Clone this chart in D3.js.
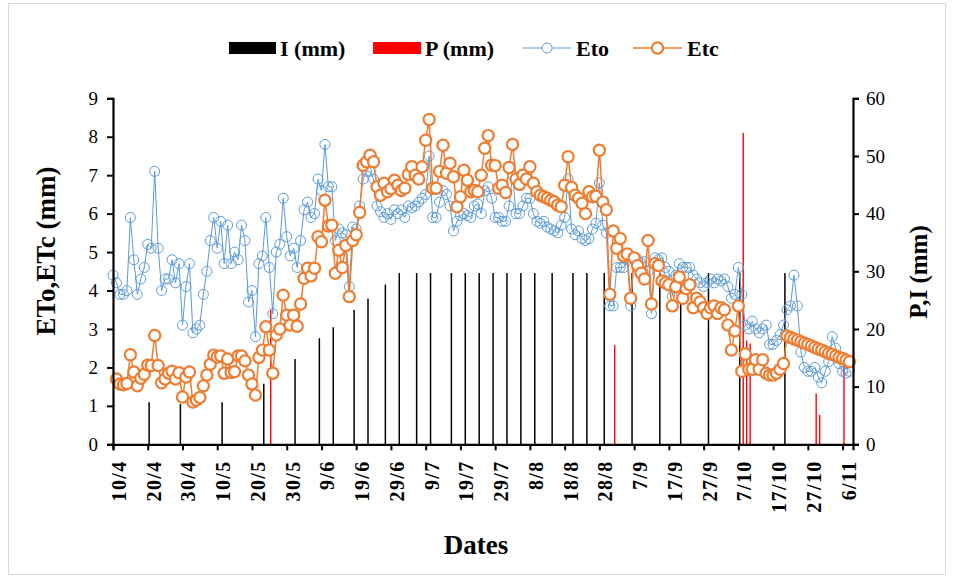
<!DOCTYPE html>
<html><head><meta charset="utf-8">
<script src="https://cdn.jsdelivr.net/npm/d3@7"></script>
<style>
html,body{margin:0;padding:0;background:#fff;}
svg{display:block;}
text{font-family:"Liberation Serif","Times New Roman",serif;}
</style></head>
<body>
<svg id="chart" width="955" height="580"></svg>
<script>
// ---- DATA ----
const tickLabels = ["10/4","20/4","30/4","10/5","20/5","30/5","9/6","19/6","29/6","9/7","19/7","29/7","8/8","18/8","28/8","7/9","17/9","27/9","7/10","17/10","27/10","6/11"];
const dayCount = 213;

const eto = [4.4,4.2,3.9,3.9,4.0,5.9,4.8,3.9,4.3,4.6,
5.2,5.1,7.1,5.1,4.0,4.3,4.3,4.8,4.2,4.7,
3.1,4.1,4.7,2.9,3.0,3.1,3.9,4.5,5.3,5.9,
5.1,5.8,4.7,5.7,4.7,5.0,4.8,5.7,5.3,3.7,
4.0,2.8,4.7,4.9,5.9,4.6,3.4,5.0,5.2,6.4,
5.4,4.9,5.1,4.6,5.3,6.1,6.3,5.9,6.0,6.9,
6.6,7.8,6.7,6.7,5.3,5.6,5.5,5.45,4.1,5.65,
5.6,6.2,6.9,7.1,7.1,6.9,6.2,6.05,5.9,6.0,
5.85,6.1,6.0,6.1,5.9,6.2,6.15,6.2,6.3,6.4,
6.5,7.5,5.9,5.9,6.3,6.6,6.5,6.2,5.55,5.8,
5.95,6.0,5.95,5.9,6.2,6.25,6.0,6.6,6.7,6.4,
5.9,5.9,5.8,5.8,6.2,7.0,6.0,6.0,6.2,6.4,
6.4,6.0,5.8,5.75,5.8,5.65,5.6,5.55,5.5,5.7,
5.9,6.9,5.6,5.45,5.55,5.35,5.3,5.35,5.6,5.75,
6.8,5.7,5.5,3.6,3.6,4.6,4.6,4.6,4.8,3.6,
4.8,4.8,4.7,4.75,4.5,3.4,4.85,4.8,4.85,4.6,
4.5,3.85,4.4,4.7,4.6,4.6,4.6,4.4,4.3,4.2,
4.1,4.2,4.3,4.2,4.3,4.25,4.3,4.1,3.8,3.9,
4.6,3.9,3.1,3.0,3.2,3.0,2.9,3.0,3.1,2.6,
2.6,2.7,2.85,3.1,3.5,3.6,4.4,3.6,2.4,2.0,
1.9,1.9,2.0,1.75,1.6,1.9,2.15,2.8,2.5,2.1,
1.9,1.85,1.9];

const etc = [null,1.7,1.57,1.55,1.58,2.33,1.88,1.52,1.72,1.82,
2.06,2.05,2.83,2.05,1.6,1.7,1.85,1.9,1.7,1.86,
1.23,1.75,1.88,1.1,1.15,1.22,1.52,1.8,2.08,2.32,
2.27,2.3,1.85,2.22,1.87,1.89,2.3,2.3,2.17,1.8,
1.57,1.28,2.26,2.45,3.06,2.45,1.85,2.84,3.0,3.88,
3.36,3.1,3.36,3.07,3.65,4.32,4.58,4.38,4.58,5.4,
5.27,6.35,5.68,5.7,4.45,5.05,4.6,5.17,3.84,5.3,
5.45,6.03,7.26,7.35,7.52,7.35,6.7,6.48,6.79,6.57,
6.65,6.87,6.74,6.6,6.66,7.02,7.22,7.0,6.9,7.22,
7.91,8.45,6.66,6.66,7.1,7.78,7.05,7.31,6.96,6.18,
6.44,7.13,6.87,6.57,6.6,6.57,7.0,7.7,8.03,7.26,
7.25,6.66,6.74,6.55,7.2,7.8,6.9,6.76,7.0,6.9,
7.22,6.79,6.57,6.48,6.44,6.4,6.35,6.31,6.22,6.18,
6.74,7.48,6.68,6.48,6.4,6.27,6.0,6.57,6.44,6.45,
7.65,6.3,6.1,3.9,5.55,5.1,5.35,4.9,4.95,3.8,
4.85,4.65,4.45,4.3,5.3,3.65,4.7,4.65,4.25,4.2,
4.15,3.6,4.1,4.35,3.8,4.05,4.15,3.55,3.8,3.7,
3.55,3.4,3.55,3.6,3.4,3.55,3.5,3.1,2.45,2.95,
3.6,1.9,2.35,1.95,1.95,2.2,1.95,2.2,1.85,1.8,
1.8,1.85,1.95,2.1,2.82,2.78,2.74,2.71,2.67,2.63,
2.6,2.56,2.52,2.48,2.45,2.41,2.37,2.34,2.3,2.26,
2.23,2.19,2.15];

const irrigationDays = [10,19,31,43,52,59,63,69,73,78,82,87,91,97,101,105,109,113,117,121,126,132,136,141,149,157,163,171,180,193];
const irrigationMm   = [7.3,7.0,7.3,10.5,14.8,18.4,20.3,23.3,25.3,27.7,29.7,29.7,29.7,29.7,29.7,29.7,29.7,29.7,29.7,29.7,29.7,29.7,29.7,29.7,29.7,29.7,29.7,29.7,29.7,29.7];
const rainDays = [45,144,181,182,183,202,203,210];
const rainMm   = [23.3,17.2,54.0,18.0,17.5,8.8,5.1,14.1];

// ---- CHART ----
const svg = d3.select("#chart");
const L = 113, R = 853, T = 98.3, B = 444.3;
const x = d3.scaleLinear().domain([0, dayCount]).range([L, R]);
const yL = d3.scaleLinear().domain([0, 9]).range([B, T]);
const yR = d3.scaleLinear().domain([0, 60]).range([B, T]);
const barOff = 0.4;

// outer border
svg.append("rect").attr("x",8.5).attr("y",3.5).attr("width",937).attr("height",571)
  .attr("fill","none").attr("stroke","#d9d9d9").attr("stroke-width",1);

// bars
svg.append("g").selectAll("line").data(irrigationDays).join("line")
  .attr("x1",(d)=>x(d+barOff)).attr("x2",(d)=>x(d+barOff))
  .attr("y1",yR(0)).attr("y2",(d,i)=>yR(irrigationMm[i]))
  .attr("stroke","#000").attr("stroke-width",1.5);
svg.append("g").selectAll("line").data(rainDays).join("line")
  .attr("x1",(d)=>x(d+barOff)).attr("x2",(d)=>x(d+barOff))
  .attr("y1",yR(0)).attr("y2",(d,i)=>yR(rainMm[i]))
  .attr("stroke","#ff0000").attr("stroke-width",1.4);

// lines
const etoPts = eto.map((v,i)=>({d:i,v}));
const etcPts = etc.map((v,i)=>({d:i,v})).filter(p=>p.v!=null);
const line = d3.line().x(p=>x(p.d)).y(p=>yL(p.v));
svg.append("path").datum(etoPts).attr("d",line).attr("fill","none")
  .attr("stroke","#5b9bd5").attr("stroke-width",1);
svg.append("g").selectAll("circle").data(etoPts).join("circle")
  .attr("cx",p=>x(p.d)).attr("cy",p=>yL(p.v)).attr("r",5)
  .attr("fill","none").attr("stroke","#5b9bd5").attr("stroke-width",1);
svg.append("path").datum(etcPts).attr("d",line).attr("fill","none")
  .attr("stroke","#ed7d31").attr("stroke-width",1.5);
svg.append("g").selectAll("circle").data(etcPts).join("circle")
  .attr("cx",p=>x(p.d)).attr("cy",p=>yL(p.v)).attr("r",5.6)
  .attr("fill","#fff").attr("stroke","#ed7d31").attr("stroke-width",2.2);

// axes
const fontTick = 19;
const gL = svg.append("g").attr("transform",`translate(${L},0)`)
  .call(d3.axisLeft(yL).ticks(9).tickSize(6).tickPadding(9).tickFormat(d3.format("d")));
const gR = svg.append("g").attr("transform",`translate(${R},0)`)
  .call(d3.axisRight(yR).ticks(6).tickSize(6).tickPadding(7).tickFormat(d3.format("d")));
const tickIdx = tickLabels.map((t,i)=>i*10);
const gB = svg.append("g").attr("transform",`translate(0,${B})`)
  .call(d3.axisBottom(x).tickValues(tickIdx).tickSize(6).tickFormat((d,i)=>tickLabels[i]));
[gL,gR,gB].forEach(g=>{
  g.select(".domain").attr("stroke","#000").attr("stroke-width",2.2);
  g.selectAll(".tick line").attr("stroke","#000").attr("stroke-width",2);
  g.selectAll("text").attr("font-size",fontTick).attr("fill","#000")
   .attr("font-family","Liberation Serif, serif");
});
gB.selectAll(".tick text")
  .attr("font-weight","bold").attr("text-anchor","end").attr("font-size",20)
  .attr("letter-spacing","1.4px")
  .attr("transform","rotate(-90)").attr("x",-16).attr("y",5.5).attr("dy","0.35em");

// axis titles
svg.append("text").attr("x",476).attr("y",554).attr("text-anchor","middle")
  .attr("font-size",27).attr("font-weight","bold").text("Dates");
svg.append("text").attr("transform","translate(55,251) rotate(-90)").attr("text-anchor","middle")
  .attr("font-size",27).attr("font-weight","bold").text("ETo,ETc (mm)");
svg.append("text").attr("transform","translate(927,272) rotate(-90)").attr("text-anchor","middle")
  .attr("font-size",25).attr("font-weight","bold").text("P,I (mm)");

// legend
const lg = svg.append("g").attr("font-size",22).attr("font-weight","bold");
lg.append("rect").attr("x",229).attr("y",42).attr("width",47).attr("height",12).attr("fill","#000");
lg.append("text").attr("x",280).attr("y",56).text("I (mm)");
lg.append("rect").attr("x",373).attr("y",42).attr("width",48).attr("height",12).attr("fill","#ff0000");
lg.append("text").attr("x",425).attr("y",56).text("P (mm)");
lg.append("line").attr("x1",523).attr("x2",571).attr("y1",48).attr("y2",48).attr("stroke","#5b9bd5").attr("stroke-width",1);
lg.append("circle").attr("cx",547).attr("cy",48).attr("r",5).attr("fill","#fff").attr("stroke","#5b9bd5");
lg.append("text").attr("x",576).attr("y",56).text("Eto");
lg.append("line").attr("x1",633).attr("x2",682).attr("y1",48).attr("y2",48).attr("stroke","#ed7d31").attr("stroke-width",1.5);
lg.append("circle").attr("cx",657.5).attr("cy",48).attr("r",5.6).attr("fill","#fff").attr("stroke","#ed7d31").attr("stroke-width",2.2);
lg.append("text").attr("x",687).attr("y",56).text("Etc");
</script>
</body></html>
